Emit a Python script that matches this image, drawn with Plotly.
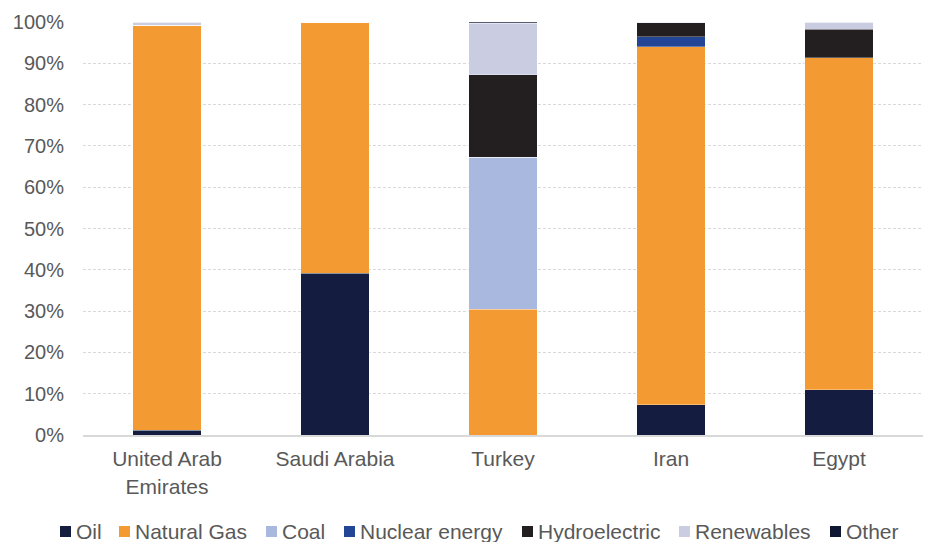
import plotly.graph_objects as go

countries = ["United Arab<br>Emirates", "Saudi Arabia", "Turkey", "Iran", "Egypt"]
oil = [1.2, 39.2, 0.0, 7.3, 10.9]
natural_gas = [98.0, 60.8, 30.5, 86.7, 80.5]
coal = [0.0, 0.0, 36.8, 0.0, 0.0]
nuclear = [0.0, 0.0, 0.0, 2.4, 0.0]
hydro = [0.0, 0.0, 19.9, 3.4, 6.8]
renewables = [0.8, 0.0, 12.5, 0.2, 1.8]
other = [0.0, 0.0, 0.3, 0.0, 0.0]

names = ["Oil", "Natural Gas", "Coal", "Nuclear energy", "Hydroelectric", "Renewables", "Other"]
values = [oil, natural_gas, coal, nuclear, hydro, renewables, other]
colors = ["#141c3f", "#f49a33", "#a9b8de", "#234595", "#231f20", "#cacce2", "#0f1733"]

# legend layout (pixel positions of legend squares, left edges)
legend_px = [60, 119, 266, 344, 522, 679, 830]

W, H = 928, 542
ML, MR, MT, MB = 83, 5, 22, 107
PW, PH = W - ML - MR, H - MT - MB

def px_x(p):
    return (p - ML) / PW

def px_y(p):
    return (H - MB - p) / PH

fig = go.Figure()
for name, vals, color in zip(names, values, colors):
    fig.add_trace(go.Bar(
        x=countries, y=vals, name=name,
        marker=dict(color=color, line=dict(color="rgba(255,255,255,0.5)", width=0.6)),
        width=0.405, showlegend=False,
    ))

shapes = []
annotations = []
for name, color, lx in zip(names, colors, legend_px):
    shapes.append(dict(type="rect", xref="paper", yref="paper",
                       x0=px_x(lx), x1=px_x(lx + 11), y0=px_y(537), y1=px_y(526),
                       fillcolor=color, line=dict(width=0)))
    annotations.append(dict(xref="paper", yref="paper", x=px_x(lx + 14), y=px_y(531),
                            xanchor="left", yanchor="middle", showarrow=False,
                            text=name, font=dict(size=21, color="#595959")))

fig.update_layout(
    barmode="stack",
    width=W, height=H,
    margin=dict(l=ML, r=MR, t=MT, b=MB),
    paper_bgcolor="white", plot_bgcolor="white",
    font=dict(family="Liberation Sans, Arial, sans-serif", size=20, color="#595959"),
    showlegend=False,
    yaxis=dict(range=[0, 100], dtick=10, ticksuffix="%", showgrid=True,
               gridcolor="#d9d9d9", griddash="3px,2px", gridwidth=1,
               zeroline=False, ticks="", tickfont=dict(size=20, color="#595959"),
               showline=False, ticklabelstandoff=18, automargin=False),
    xaxis=dict(showline=True, linecolor="#d9d9d9", linewidth=2,
               tickfont=dict(size=21, color="#595959"), ticks="", automargin=False,
               ticklabelstandoff=4),
    bargap=0.595,
    shapes=shapes,
    annotations=annotations,
)

fig.write_html("out.html")
